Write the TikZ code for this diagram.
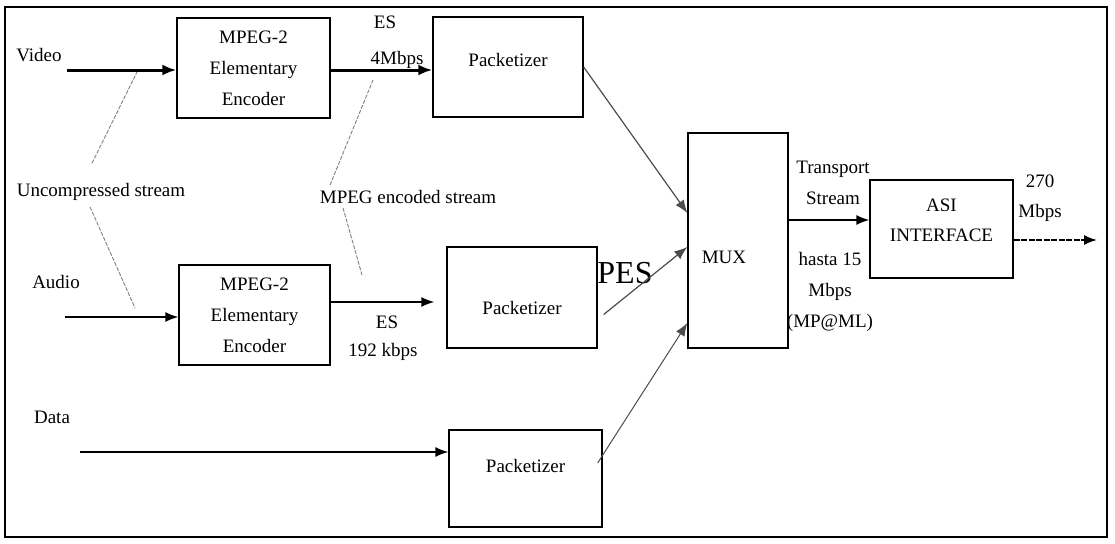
\documentclass[tikz,border=0pt]{standalone}
\usepackage{fontspec}
\setmainfont{Liberation Serif}
\usetikzlibrary{arrows.meta,calc}
\begin{document}
\begin{tikzpicture}[x=1pt,y=-1pt,
  box/.style={draw, line width=1.3pt, inner sep=0pt, align=center, font=\fontsize{19}{31}\selectfont},
  lbl/.style={inner sep=0pt, align=center, font=\fontsize{19}{31}\selectfont},
  arr/.style={-{Latex[length=13pt,width=10pt]}, line width=1.6pt},
  thickarr/.style={-{Latex[length=14pt,width=11pt]}, line width=3pt},
  note/.style={gray, line width=0.9pt, dash pattern=on 4pt off 1.5pt},
]
\useasboundingbox (0,0) rectangle (1115,543);
\draw[line width=1.5pt] (5,7) rectangle (1107,537);

% boxes
\node[box, minimum width=153pt, minimum height=100pt] (enc1) at (253.5,68) {MPEG-2\\Elementary\\Encoder};
\node[box, minimum width=150pt, minimum height=100pt, text height=13pt, text depth=14pt] (pack1) at (508,67) {Packetizer};
\node[box, minimum width=151pt, minimum height=100pt] (enc2) at (254.5,315) {MPEG-2\\Elementary\\Encoder};
\node[box, minimum width=150pt, minimum height=101pt, text height=33pt, text depth=0pt] (pack2) at (522,297.5) {Packetizer};
\node[box, minimum width=153pt, minimum height=97pt, text height=13pt, text depth=26pt] (pack3) at (525.5,478.5) {Packetizer};
\node[box, minimum width=100pt, minimum height=215pt] (mux) at (738,240.5) {};
\node[lbl] (muxt) at (724,257) {MUX};
\node[box, minimum width=143pt, minimum height=98pt] (asi) at (941.5,229) {};
\node[lbl, font=\fontsize{19}{30}\selectfont] (asit) at (941.5,220) {ASI\\INTERFACE};

% labels
\node[lbl] (video) at (39,55) {Video};
\node[lbl] (audio) at (56,282) {Audio};
\node[lbl] (data) at (52,417) {Data};
\node[lbl] (es1) at (385,22) {ES};
\node[lbl] (rate1) at (397,60) {4Mbps};
\node[lbl] (es2) at (387,322) {ES};
\node[lbl] (rate2) at (383,352) {192 kbps};
\node[lbl, font=\fontsize{32}{36}\selectfont] (pes) at (625,273) {PES};
\node[lbl] (ts) at (833,182.5) {Transport\\Stream};
\node[lbl] (hasta) at (830,291.5) {hasta 15\\Mbps\\(MP@ML)};
\node[lbl, font=\fontsize{19}{30}\selectfont] (r270) at (1040,198) {270\\Mbps};
\node[lbl] (unc) at (101,192) {Uncompressed stream};
\node[lbl] (mes) at (408,197) {MPEG encoded stream};

% coordinates
\coordinate (vin) at (67,70);
\coordinate (ain) at (65,317);
\coordinate (din) at (80,452);
\coordinate (out) at (1097,240);
\coordinate (u1) at (137,72);
\coordinate (u2) at (135,308);
\coordinate (m1) at (373,80);
\coordinate (m2) at (362,275);

% main arrows
\draw[thickarr] (vin) -- (vin -| enc1.west);
\draw[thickarr] (enc1.east |- 0,70) -- (pack1.west |- 0,70);
\draw[arr, line width=1.2pt, gray!60!black] (pack1.east) -- ($(mux.west)+(0,-27.5)$);
\draw[arr, line width=1.4pt] (ain) -- (ain -| enc2.west);
\draw[arr] (enc2.east |- 0,302) -- ($(pack2.west |- 0,302)+(-12,0)$);
\draw[arr, line width=1.2pt, gray!60!black] ($(pack2.east)+(6,17)$) -- ($(mux.west)+(0,6.5)$);
\draw[arr, line width=1.4pt] (din) -- (din -| pack3.west);
\draw[arr, line width=1pt, gray!60!black] ($(pack3.east)+(-5,-15.5)$) -- ($(mux.west)+(0,82.5)$);
\draw[arr] (mux.east |- 0,220) -- (asi.west |- 0,220);
\draw[arr, dash pattern=on 6pt off 1.5pt] (asi.east |- 0,240) -- (out);

% annotation lines
\draw[note] ([xshift=-9pt,yshift=20pt]unc.north) -- (u1);
\draw[note] ([xshift=-11pt,yshift=-6pt]unc.south) -- (u2);
\draw[note] ([xshift=-78pt,yshift=5pt]mes.north) -- (m1);
\draw[note] ([xshift=-65pt,yshift=-4pt]mes.south) -- (m2);
\end{tikzpicture}
\end{document}
